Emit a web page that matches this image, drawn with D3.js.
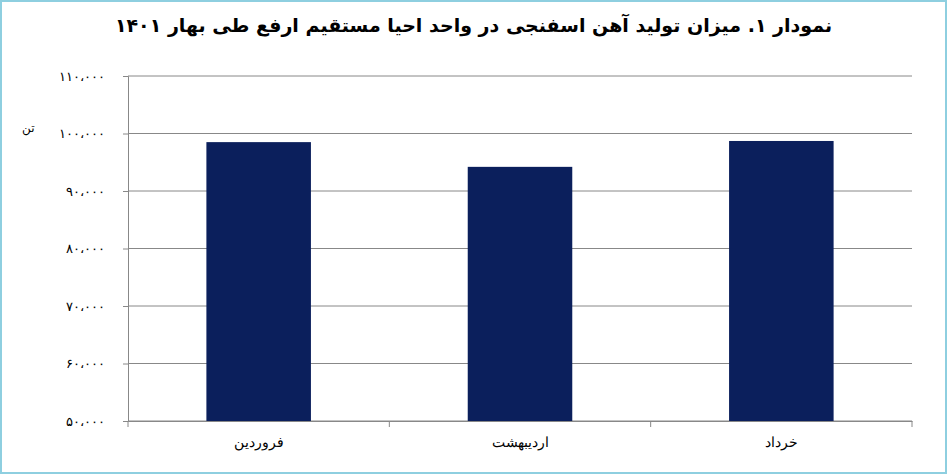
<!DOCTYPE html>
<html><head><meta charset="utf-8">
<script src="https://cdn.jsdelivr.net/npm/d3@7"></script>
<style>body{margin:0;background:#fff}svg{display:block;font-family:"DejaVu Sans",sans-serif}</style>
</head><body><div id="c"></div>
<script>
const months = ["فروردین", "اردیبهشت", "خرداد"];
const production = [98500, 94200, 98700];
const yTicks = [50000, 60000, 70000, 80000, 90000, 100000, 110000];
const title = "نمودار ۱. میزان تولید آهن اسفنجی در واحد احیا مستقیم ارفع طی بهار ۱۴۰۱";

const W = 947, H = 474;
const m = {top: 76, right: 35, bottom: 53, left: 128};
const svg = d3.select("#c").append("svg").attr("width", W).attr("height", H);
svg.append("rect").attr("x", 1).attr("y", 1).attr("width", W - 2).attr("height", H - 2)
  .attr("fill", "#fff").attr("stroke", "#8ecfe0").attr("stroke-width", 2);

const x = d3.scaleBand().domain(months).range([m.left, W - m.right]).paddingInner(0.6).paddingOuter(0.3);
const y = d3.scaleLinear().domain([50000, 110000]).range([H - m.bottom, m.top]);
const fa = n => d3.format(",")(n).replace(/,/g, "،").replace(/\d/g, d => "۰۱۲۳۴۵۶۷۸۹"[d]);

svg.append("g").selectAll("line").data(yTicks).join("line")
  .attr("x1", m.left).attr("x2", W - m.right)
  .attr("y1", d => y(d)).attr("y2", d => y(d)).attr("stroke", "#888");

const ya = svg.append("g").attr("transform", `translate(${m.left},0)`)
  .call(d3.axisLeft(y).tickValues(yTicks).tickFormat(fa).tickSize(5).tickPadding(18));
ya.select(".domain").attr("stroke", "#888");
ya.selectAll("line").attr("stroke", "#888");
ya.selectAll("text").attr("font-size", 13).attr("fill", "#000");

svg.append("text").attr("x", 22).attr("y", 132).attr("font-size", 12).text("تن");

const xa = svg.append("g").attr("transform", `translate(0,${H - m.bottom})`)
  .call(d3.axisBottom(x).tickSize(0).tickPadding(16));
xa.select(".domain").attr("stroke", "#888");
xa.selectAll("text").attr("font-size", 14).attr("fill", "#000");
xa.selectAll(".sep").data([0, 1, 2, 3]).join("line")
  .attr("x1", (d, i) => m.left + i * (W - m.right - m.left) / 3)
  .attr("x2", (d, i) => m.left + i * (W - m.right - m.left) / 3)
  .attr("y1", 0).attr("y2", 6).attr("stroke", "#888");

svg.append("g").selectAll("rect").data(production).join("rect")
  .attr("x", (d, i) => x(months[i])).attr("width", x.bandwidth())
  .attr("y", d => y(d)).attr("height", d => y(50000) - y(d)).attr("fill", "#0b1f5c");

svg.append("text").attr("x", W / 2).attr("y", 32).attr("text-anchor", "middle")
  .attr("font-size", 19).attr("font-weight", "bold").attr("direction", "rtl").text(title);
</script></body></html>
